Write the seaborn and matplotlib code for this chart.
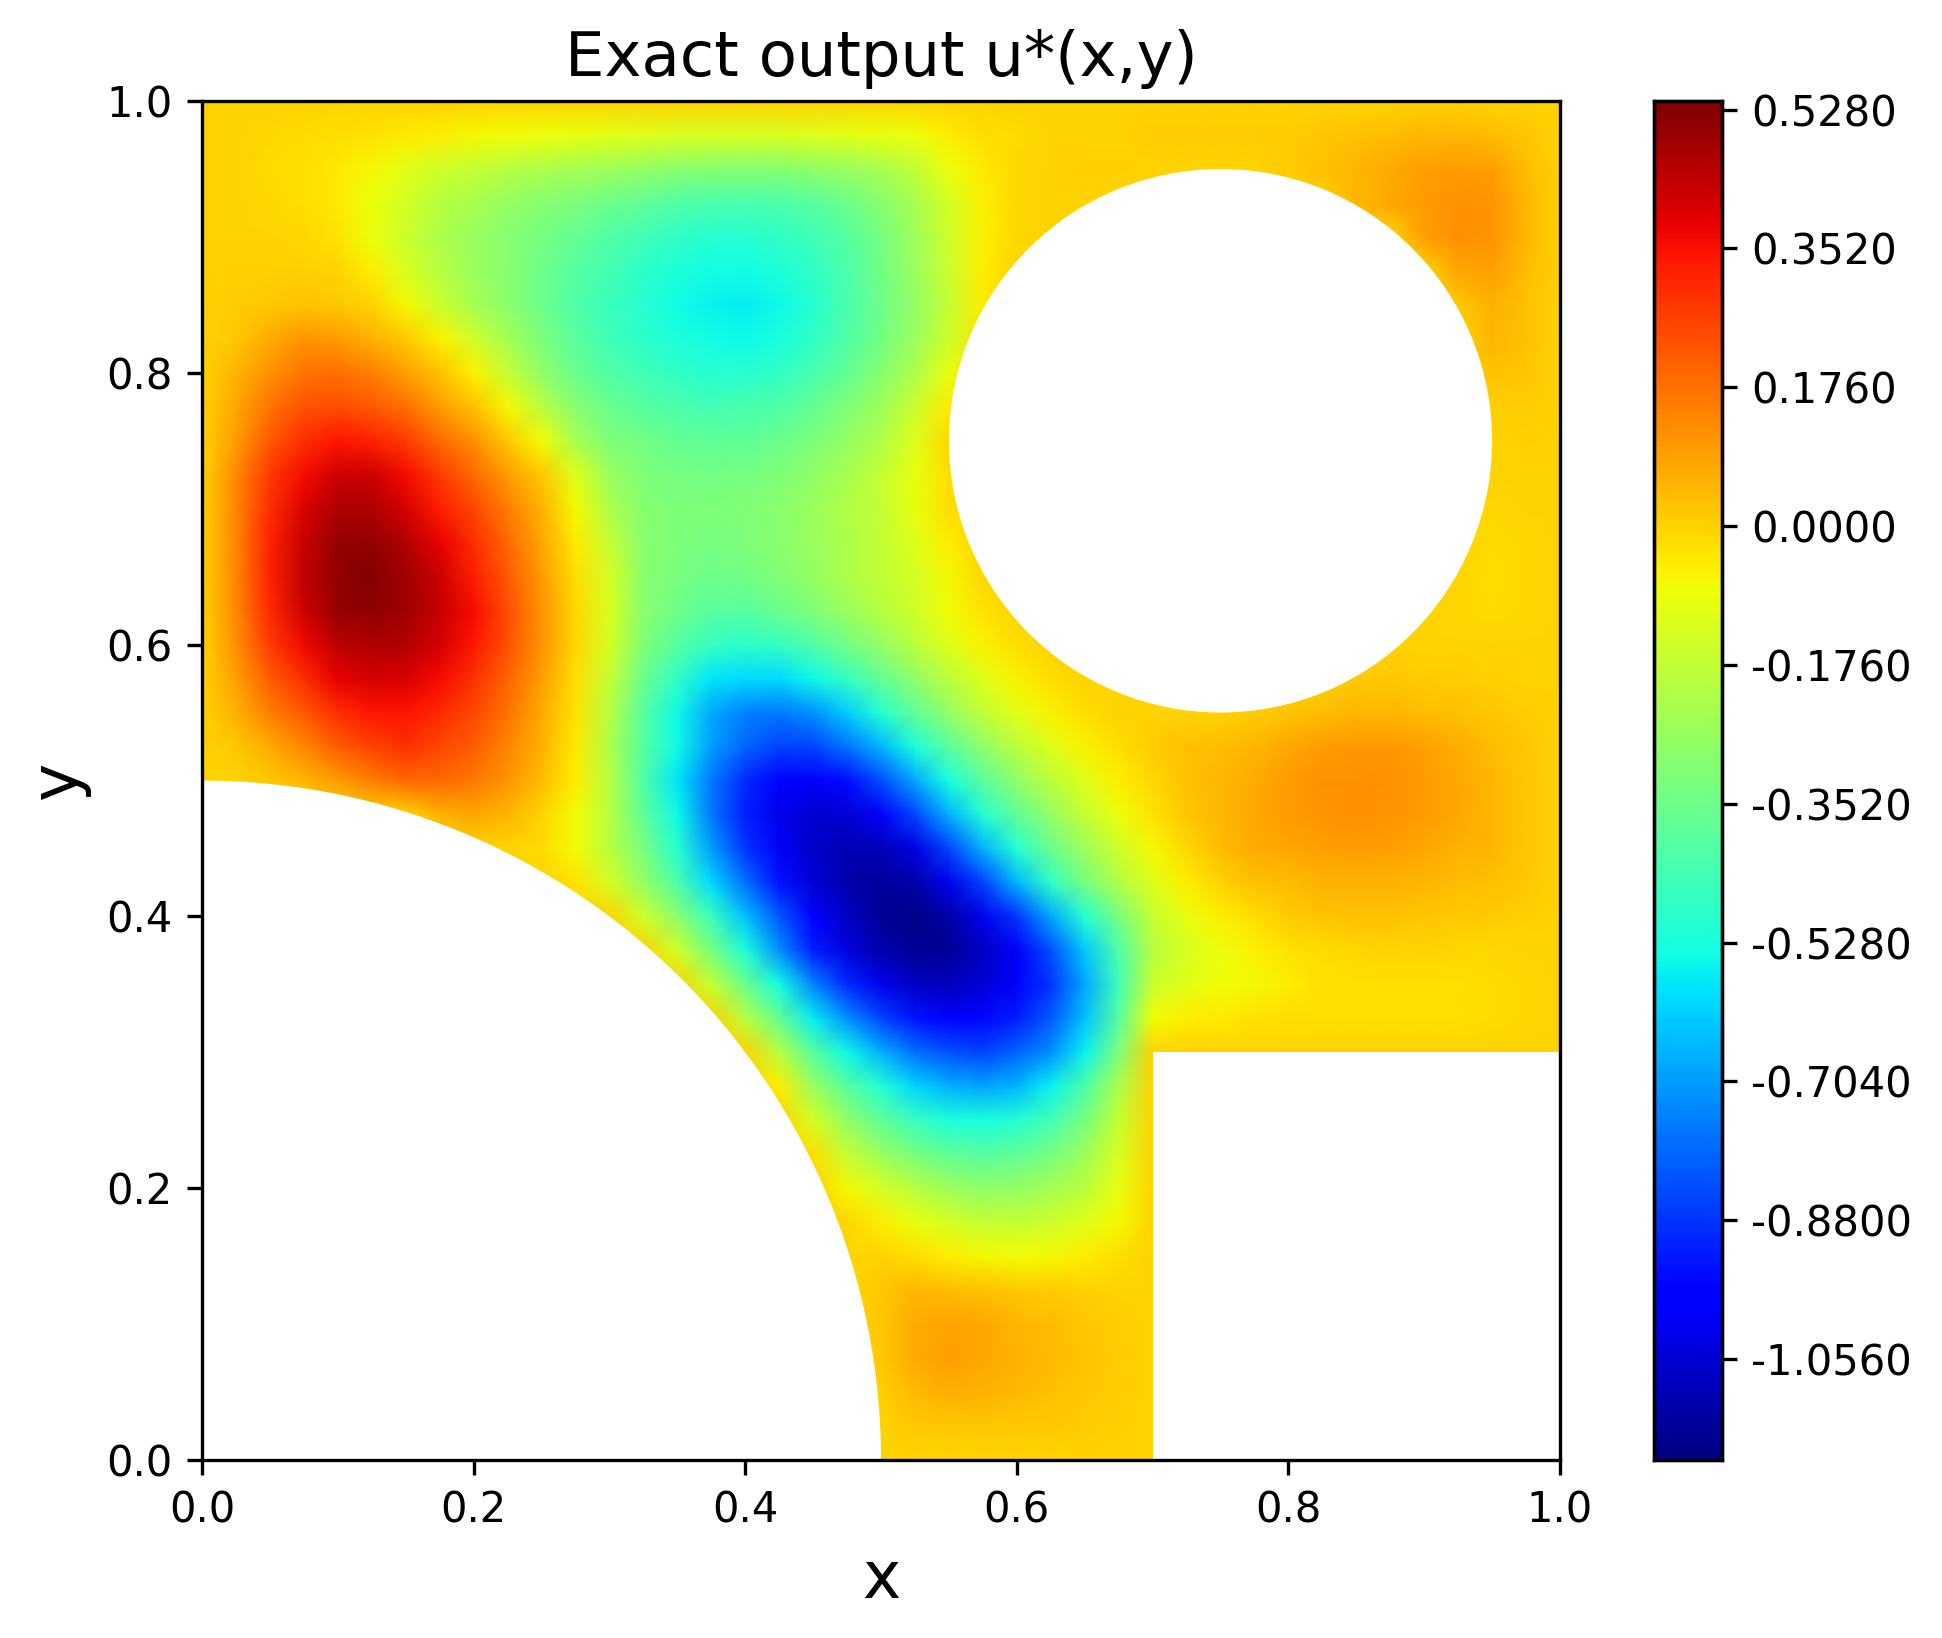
import numpy as np
import matplotlib
matplotlib.use("Agg")
import matplotlib.pyplot as plt
from matplotlib.patches import Circle, Wedge, Rectangle
import seaborn as sns

# values, x and y from 0 to 1 in steps of 0.025
y000 = [0]*41
y025 = [0]*21 + [.015,.02,.02,.02,.015,.01,.005] + [0]*13
y050 = [0]*20 + [.005,.045,.065,.06,.045,.03,.015,.01] + [0]*13
y075 = [0]*20 + [.015,.07,.09,.08,.06,.045,.025,.01] + [0]*13
y100 = [0]*20 + [.02,.07,.085,.075,.05,.035,.02,.01] + [0]*13
y125 = [0]*20 + [.02,.05,.04,.03,.015,.01,.005,0] + [0]*13
y150 = [0]*20 + [0,-.02,-.05,-.07,-.08,-.07,-.05,-.02] + [0]*13
y175 = [0]*19 + [-.01,-.05,-.1,-.14,-.17,-.17,-.15,-.12,-.07] + [0]*13
y200 = [0]*19 + [-.07,-.14,-.2,-.25,-.28,-.27,-.24,-.19,-.1] + [0]*13
y225 = [0]*18 + [-.02,-.17,-.26,-.33,-.38,-.4,-.38,-.33,-.25,-.13] + [0]*13
y250 = [0]*18 + [-.14,-.28,-.38,-.46,-.52,-.53,-.51,-.44,-.33,-.17] + [0]*13
y275 = [0]*17 + [-.05,-.26,-.4,-.51,-.61,-.67,-.69,-.66,-.56,-.42,-.22] + [0]*13
y300 = [0]*17 + [-.2,-.4,-.55,-.67,-.78,-.83,-.85,-.8,-.72,-.56,-.32] + [0]*13
y325 = [0]*16 + [-.2,-.37,-.57,-.72,-.85,-.94,-.98,-.96,-.92,-.82,-.64,-.4,
                 -.08,-.05,-.04,-.03,-.025,-.02,-.02,-.02,-.02,-.02,-.015,-.01,0]
y350 = [0]*15 + [-.17,-.35,-.54,-.74,-.9,-1.02,-1.08,-1.09,-1.05,-1.0,-.88,-.68,-.45,
                 -.16,-.11,-.08,-.07,-.05,-.03,-.025,-.02,-.02,-.02,-.015,-.01,0]
y375 = [0]*14 + [-.15,-.33,-.52,-.72,-.92,-1.04,-1.11,-1.15,-1.15,-1.08,-1.0,-.84,-.63,-.42,
                 -.2,-.13,-.09,-.06,-.03,-.015,-.01,-.005,-.005,-.01,-.01,-.005,0]
y400 = [0]*13 + [-.15,-.29,-.46,-.64,-.82,-.98,-1.08,-1.15,-1.17,-1.13,-1.02,-.88,-.68,-.5,-.33,
                 -.17,-.1,-.05,-.02,.01,.025,.03,.03,.02,.015,.01,.005,0]
y425 = [0]*11 + [-.03,-.14,-.27,-.42,-.6,-.78,-.94,-1.05,-1.11,-1.14,-1.12,-1.02,-.86,-.66,-.48,-.33,-.21,
                 -.12,-.05,0,.03,.04,.055,.06,.055,.05,.04,.03,.015,0]
y450 = [0]*10 + [-.015,-.08,-.2,-.33,-.5,-.7,-.88,-1.0,-1.07,-1.1,-1.1,-1.03,-.85,-.67,-.5,-.36,-.25,-.15,
                 -.07,-.01,.04,.07,.075,.09,.095,.09,.075,.06,.05,.02,0]
y475 = [0]*7 + [.06,.08,.05,0,-.08,-.2,-.38,-.55,-.76,-.92,-1.02,-1.06,-1.05,-1.0,-.85,-.67,-.51,-.38,-.27,-.17,-.09,
                -.03,.02,.05,.08,.1,.11,.115,.11,.095,.075,.05,.02,0]
y500 = [0,0,.015,.05,.1,.15,.19,.19,.16,.11,.04,
        -.05,-.2,-.42,-.58,-.76,-.9,-.98,-1.0,-.95,-.84,-.68,-.53,-.39,-.28,-.19,-.12,-.05,
        -.01,.03,.05,.07,.1,.115,.12,.115,.1,.075,.05,.02,0]
y525 = [0,.02,.07,.14,.21,.26,.29,.25,.21,.14,.06,
        -.04,-.22,-.4,-.55,-.7,-.8,-.86,-.85,-.77,-.66,-.52,-.39,-.28,-.19,-.12,-.06,-.02,
        .01,.03,.04,.05,.08,.1,.105,.105,.09,.065,.04,.02,0]
y550 = [0,.06,.15,.22,.3,.34,.35,.31,.25,.17,.07,
        -.03,-.2,-.4,-.55,-.68,-.75,-.76,-.72,-.62,-.5,-.38,-.27,-.18,-.11,-.06,-.02,0,
        0,0,0,.01,.025,.04,.05,.05,.04,.03,.02,.01,0]
y575 = [0,.09,.21,.3,.38,.41,.4,.36,.29,.2,.09,
        -.02,-.17,-.36,-.48,-.58,-.6,-.6,-.55,-.47,-.37,-.28,-.19,-.12,-.06,-.02,0,0,
        0,0,0,0,0,0,.01,.015,.01,.01,.005,0,0]
y600 = [0,.12,.27,.37,.45,.47,.46,.41,.34,.23,.11,
        -.01,-.14,-.31,-.4,-.47,-.49,-.47,-.41,-.34,-.27,-.19,-.12,-.06,-.02,0,0,0,
        0,0,0,0,0,0,0,0,-.005,-.005,-.005,0,0]
y625 = [0,.13,.31,.42,.5,.51,.49,.43,.36,.24,.11,
        -.01,-.13,-.29,-.35,-.39,-.4,-.36,-.31,-.26,-.2,-.15,-.08,-.03,0,0,0,0,
        0,0,0,0,0,0,0,0,0,-.01,-.015,-.01,0]
y650 = [0,.14,.32,.44,.51,.53,.49,.42,.33,.22,.1,
        -.02,-.14,-.29,-.33,-.35,-.34,-.31,-.27,-.22,-.18,-.14,-.07,-.01,0,0,0,0,
        0,0,0,0,0,0,0,0,0,0,-.02,-.012,0]
y675 = [0,.14,.32,.43,.5,.51,.46,.38,.3,.19,.08,
        -.04,-.17,-.29,-.32,-.33,-.32,-.3,-.26,-.22,-.18,-.12,-.05,0,0,0,0,0,
        0,0,0,0,0,0,0,0,0,0,-.015,-.01,0]
y700 = [0,.14,.3,.4,.47,.47,.41,.33,.25,.15,.06,
        -.07,-.22,-.3,-.32,-.32,-.31,-.29,-.26,-.21,-.17,-.1,-.02,0,0,0,0,0,
        0,0,0,0,0,0,0,0,0,0,-.01,-.005,0]
y725 = [0,.13,.27,.36,.42,.42,.36,.27,.19,.1,.02,
        -.12,-.26,-.32,-.33,-.34,-.33,-.31,-.28,-.23,-.17,-.1,-.02,0,0,0,0,0,
        0,0,0,0,0,0,0,0,0,0,0,0,0]
y750 = [0,.1,.22,.3,.34,.32,.27,.19,.12,.02,-.08,
        -.23,-.31,-.34,-.37,-.38,-.38,-.36,-.32,-.27,-.21,-.12,-.01,0,0,0,0,0,
        0,0,0,0,0,0,0,0,0,0,0,.005,0]
y775 = [0,.08,.17,.23,.24,.22,.18,.1,.03,-.07,-.2,
        -.3,-.36,-.4,-.42,-.44,-.43,-.41,-.37,-.31,-.25,-.16,-.04,0,0,0,0,0,
        0,0,0,0,0,0,0,0,0,0,.005,.01,0]
y800 = [0,.06,.12,.17,.18,.15,.09,.03,-.06,-.17,-.28,
        -.36,-.41,-.45,-.48,-.5,-.5,-.48,-.43,-.37,-.3,-.22,-.1,0,0,0,0,0,
        0,0,0,0,0,0,0,0,0,0,.03,.02,0]
y825 = [0,.02,.07,.11,.1,.06,.02,-.06,-.15,-.24,-.32,
        -.39,-.45,-.49,-.52,-.54,-.55,-.53,-.48,-.41,-.34,-.26,-.15,-.03,0,0,0,0,
        0,0,0,0,0,0,0,0,0,0,.05,.03,0]
y850 = [0,.01,.02,.025,.02,0,-.07,-.16,-.23,-.29,-.35,
        -.41,-.46,-.5,-.54,-.56,-.57,-.55,-.5,-.43,-.35,-.27,-.17,-.05,0,0,0,0,
        0,0,0,0,0,0,0,0,0,.02,.06,.03,0]
y875 = [0,.005,.005,.005,-.005,-.05,-.13,-.2,-.26,-.3,-.35,
        -.4,-.44,-.49,-.52,-.54,-.54,-.52,-.48,-.42,-.34,-.26,-.16,-.05,0,0,0,0,
        0,0,0,0,0,0,0,0,0,.08,.09,.04,0]
y900 = [0,0,-.002,-.01,-.03,-.09,-.16,-.22,-.26,-.3,-.33,
        -.37,-.41,-.45,-.48,-.5,-.5,-.48,-.45,-.4,-.33,-.25,-.15,-.06,-.01,0,0,0,
        0,0,0,0,0,0,0,0,.09,.115,.11,.05,0]
y925 = [0,0,-.01,-.02,-.04,-.09,-.14,-.2,-.23,-.27,-.3,
        -.32,-.35,-.38,-.41,-.43,-.43,-.42,-.4,-.35,-.3,-.23,-.14,-.06,-.01,0,0,0,
        0,0,0,0,0,0,.05,.08,.1,.115,.11,.05,0]
y950 = [0,-.005,-.015,-.025,-.04,-.07,-.11,-.15,-.17,-.2,-.22,
        -.24,-.25,-.27,-.29,-.3,-.3,-.3,-.28,-.26,-.23,-.18,-.09,-.04,-.01,0,.005,.005,
        0,0,0,0,.01,.03,.05,.07,.09,.1,.09,.04,0]
y975 = [0,0,-.01,-.015,-.02,-.03,-.04,-.05,-.07,-.08,-.09,
        -.1,-.11,-.12,-.13,-.13,-.13,-.13,-.12,-.11,-.1,-.09,-.05,-.02,-.015,0,0,0,
        .01,.01,.01,.01,.01,.02,.03,.04,.05,.05,.04,.02,0]
y1000 = [0]*41

field = np.array([y000, y025, y050, y075, y100, y125, y150, y175, y200, y225, y250, y275, y300,
                  y325, y350, y375, y400, y425, y450, y475, y500, y525, y550, y575, y600, y625,
                  y650, y675, y700, y725, y750, y775, y800, y825, y850, y875, y900, y925, y950,
                  y975, y1000], dtype=float)

axis_ticks = [0.0, 0.2, 0.4, 0.6, 0.8, 1.0]
cbar_ticks = [-1.056, -0.88, -0.704, -0.528, -0.352, -0.176, 0.0, 0.176, 0.352, 0.528]
vmin, vmax = -1.184, 0.539

W, H = 1942, 1638
fig = plt.figure(figsize=(W/300, H/300), dpi=300)
ax = fig.add_axes([202/W, 1-1460/H, 1358/W, 1359/H])
cax = fig.add_axes([1654/W, 1-1460/H, 68/W, 1359/H])

sns.heatmap(field, ax=ax, cbar_ax=cax, cmap="jet", vmin=vmin, vmax=vmax, shading="gouraud",
            xticklabels=False, yticklabels=False,
            cbar_kws={"ticks": cbar_ticks, "format": "%.4f"})

# heatmap runs over grid indices
k = field.shape[0] - 1
ax.set_xlim(0, k)
ax.set_ylim(0, k)
ax.set_xticks([t*k for t in axis_ticks])
ax.set_yticks([t*k for t in axis_ticks])
ax.set_xticklabels(["%.1f" % t for t in axis_ticks])
ax.set_yticklabels(["%.1f" % t for t in axis_ticks], rotation=0)
ax.tick_params(labelsize=10, width=0.8, length=3.5)
for s in ax.spines.values():
    s.set_visible(True)
    s.set_linewidth(0.8)
    s.set_zorder(5)

# holes in the domain
ax.add_patch(Wedge((0, 0), 0.5*k, 0, 90, fc="white", ec="none", zorder=2))
ax.add_patch(Circle((0.75*k, 0.75*k), 0.2*k, fc="white", ec="none", zorder=2))
ax.add_patch(Rectangle((0.7*k, 0), 0.3*k, 0.3*k, fc="white", ec="none", zorder=2))

ax.set_title("Exact output u*(x,y)", fontsize=15, pad=6)
ax.set_xlabel("x", fontsize=15.5)
ax.set_ylabel("y", fontsize=15.5)

cax.tick_params(labelsize=10, width=0.8, length=3.5)
for s in cax.spines.values():
    s.set_visible(True)
    s.set_linewidth(0.8)

fig.savefig("out.png", dpi=300)
